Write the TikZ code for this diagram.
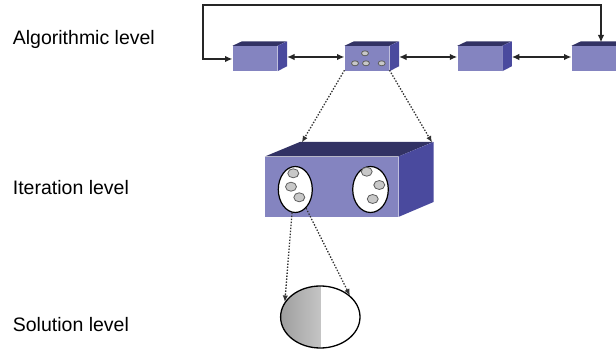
\documentclass[tikz,border=0pt]{standalone}
\usepackage{fontspec}
\setmainfont{Liberation Sans}
\usetikzlibrary{shapes.geometric,arrows.meta}
\definecolor{frontc}{RGB}{132,132,192}
\definecolor{sidec}{RGB}{74,74,158}
\definecolor{topc}{RGB}{50,50,100}
\definecolor{dotc}{RGB}{200,200,200}
\definecolor{dotline}{RGB}{95,95,95}
\tikzset{
  smallbox/.style={rectangle,fill=frontc,minimum width=44.6pt,minimum height=25pt,inner sep=0pt},
  bigbox/.style={rectangle,fill=frontc,minimum width=133.3pt,minimum height=60pt,inner sep=0pt},
  sidef/.style={fill=sidec},
  topf/.style={fill=topc},
  oval/.style={ellipse,draw=black,line width=1.2pt,fill=white,inner sep=0pt},
  pebble/.style={ellipse,draw=dotline,line width=0.8pt,fill=dotc,inner sep=0pt},
  spebble/.style={pebble,minimum width=7pt,minimum height=5pt},
  bpebble/.style={pebble,minimum width=11pt,minimum height=9pt},
  conn/.style={line width=1.7pt,black!85,{Latex[length=7.5pt,width=6.5pt]}-{Latex[length=7.5pt,width=6.5pt]}},
  dconn/.style={line width=1.3pt,black!80,dash pattern=on 1.4pt off 1.6pt,-{Latex[length=6.5pt,width=5.5pt]}},
  lvl/.style={anchor=base west,inner sep=0pt,font=\fontsize{19.5}{22}\selectfont}
}
\begin{document}
\begin{tikzpicture}[x=1pt,y=-1pt]
\useasboundingbox (0,0) rectangle (616,352);
% labels
\node[lvl] (l1) at (12.7,45) {Algorithmic level};
\node[lvl] (l2) at (12.7,195) {Iteration level};
\node[lvl] (l3) at (12.7,331.7) {Solution level};
% small boxes
\foreach \n/\cx in {b1/255,b2/367,b3/479.8,b4/594}{
  \node[smallbox] (\n) at (\cx,58.5) {};
  \fill[topf] (\n.north west) -- ++(9.5,-4.5) -- ++(44.6,0) -- (\n.north east) -- cycle;
  \fill[sidef] (\n.north east) -- ++(9.5,-4.5) -- ++(0,25) -- (\n.south east) -- cycle;
}
% pebbles in box 2
\node[spebble] (p1) at (365,53.3) {};
\node[spebble] (p2) at (355,63.3) {};
\node[spebble] (p3) at (366,63.3) {};
\node[spebble] (p4) at (381.7,63.3) {};
% connectors between small boxes
\coordinate (b1r) at ([xshift=9.5pt,yshift=1.5pt]b1.east);
\coordinate (b2r) at ([xshift=9.5pt,yshift=1.5pt]b2.east);
\coordinate (b3r) at ([xshift=9.5pt,yshift=1.5pt]b3.east);
\draw[conn] (b1r) -- ([yshift=1.5pt]b2.west);
\draw[conn] (b2r) -- ([yshift=1.5pt]b3.west);
\draw[conn] (b3r) -- ([yshift=1.5pt]b4.west);
\coordinate (b4t) at (601,42.5);
\coordinate (loopa) at (202.7,5.3);
\draw[conn] (b4t) |- (loopa) |- ([yshift=-0.5pt]b1.west);
% iteration box
\node[bigbox] (it) at (331.7,186.7) {};
\fill[topf] (it.north west) -- ++(35,-14.5) -- ++(133.3,0) -- (it.north east) -- cycle;
\fill[sidef] (it.north east) -- ++(35,-14.5) -- ++(0,60) -- (it.south east) -- cycle;
\coordinate (itbl) at ([xshift=35pt,yshift=14.5pt]it.north west);
\coordinate (itbr) at ([xshift=35pt,yshift=14.5pt]it.north east);
\node[oval,minimum width=34pt,minimum height=46pt] (e1) at (295.3,189.5) {};
\node[oval,minimum width=35.6pt,minimum height=46pt] (e2) at (370.5,189.5) {};
\node[bpebble] (q1) at (293.3,173.3) {};
\node[bpebble] (q2) at (291,186.7) {};
\node[bpebble] (q3) at (299.3,197.3) {};
\node[bpebble] (q4) at (366.7,171.7) {};
\node[bpebble] (q5) at (379.3,185) {};
\node[bpebble] (q6) at (372.7,199) {};
% dotted connectors to iteration box
\draw[dconn] ([yshift=1pt]b2.south west) -- ([xshift=2pt,yshift=-0.5pt]itbl);
\draw[dconn] ([yshift=1pt]b2.south east) -- ([xshift=-1.5pt,yshift=-0.5pt]itbr);
% solution
\node[ellipse,draw=black,line width=1.3pt,minimum width=79.4pt,minimum height=62pt,inner sep=0pt,
  path picture={\shade[left color=black!38,right color=black!8]
   (path picture bounding box.south west) rectangle (path picture bounding box.north);}] (sol) at (320.3,317) {};
\draw[dconn] (e1.262) -- (sol.157);
\draw[dconn] (e1.300) -- (sol.36);
\end{tikzpicture}
\end{document}
